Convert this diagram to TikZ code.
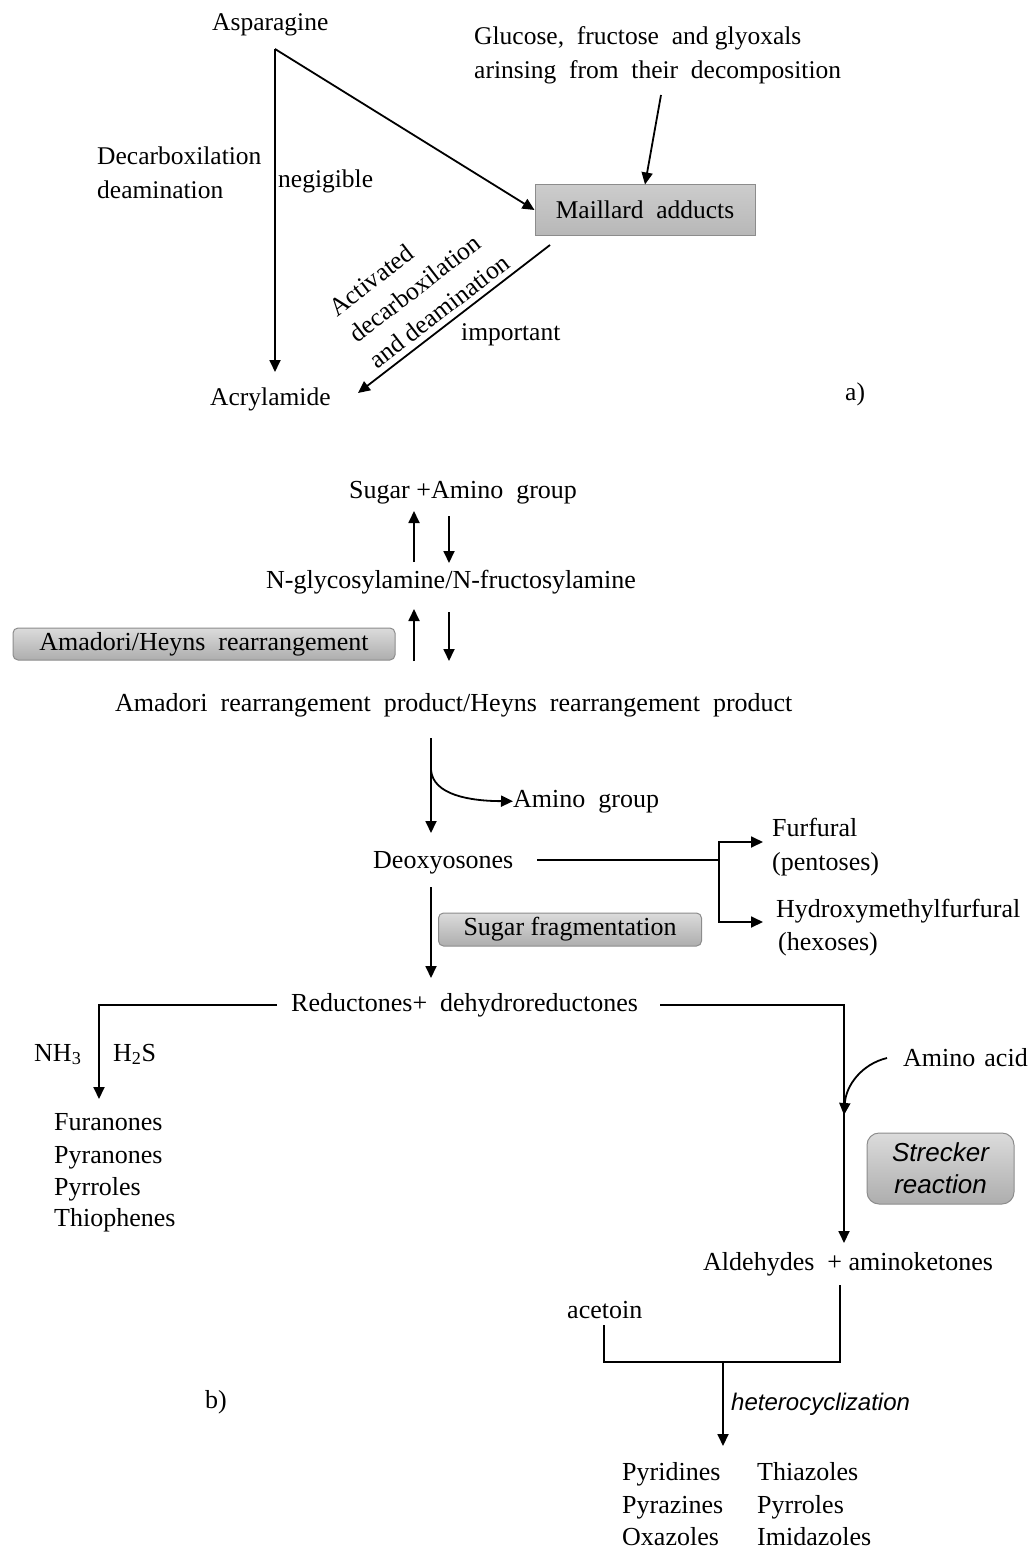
\documentclass[tikz,border=0pt]{standalone}
\usepackage{fontspec}
\setmainfont{Liberation Serif}
\setsansfont{Liberation Sans}
\usetikzlibrary{arrows.meta}
\begin{document}
\begin{tikzpicture}[x=1pt,y=-1pt,
  every node/.style={inner sep=0pt, font=\fontsize{26}{31}\selectfont},
  fa/.style={font=\fontsize{25.5}{31}\selectfont},
  lbl/.style={anchor=base west},
  ln/.style={line width=1.8pt},
  arr/.style={line width=1.8pt, -{Triangle[length=12pt,width=11pt]}},
  gbox/.style={draw=black!45, line width=1pt, top color=black!14, bottom color=black!32, inner sep=0pt},
]
\useasboundingbox (0,0) rectangle (1029,1549);

% ---------------- part a ----------------
\node[lbl,fa] (asp) at (212,31) {Asparagine};
\node[lbl,fa] (acr) at (210,405) {Acrylamide};
\node[lbl,fa] (dec1) at (97,165) {Decarboxilation};
\node[lbl,fa] (dec2) at (97,198) {deamination};
\node[lbl,fa] (neg) at (278,188) {negigible};
\node[lbl,fa] (glu1) at (474,45) {Glucose,\ \ fructose\ \ and glyoxals};
\node[lbl,fa] (glu2) at (474,79) {arinsing\ \ from\ \ their\ \ decomposition};
\node[gbox, rounded corners=0pt, fa, minimum width=220pt, minimum height=50pt, top color=black!20, bottom color=black!28] (mail) at (645,210) {Maillard\ \ adducts};
\node[rotate=37.6, align=left, font=\fontsize{25.5}{33}\selectfont] (act) at (419,285) {Activated\\decarboxilation\\and deamination};
\node[lbl,fa] (imp) at (461,340) {important};
\node[lbl,fa] (la) at (845,400) {a)};

\coordinate (apex) at (275,49);
\coordinate (acrtop) at (275,372);
\coordinate (gluend) at (661,95);
\coordinate (mailout) at (550,245);
\coordinate (acrin) at (358,393);
\draw[arr] (apex) -- (acrtop);
\draw[arr] (apex) -- (mail.west);
\draw[arr] (gluend) -- (mail.north);
\draw[arr] (mailout) -- (acrin);

% ---------------- part b ----------------
\node[lbl] (sug) at (349,498) {Sugar +Amino\ \ group};
\node[lbl] (ngly) at (266,588) {N-glycosylamine/N-fructosylamine};
\node[gbox, rounded corners=5pt, minimum width=382pt, minimum height=32pt] (amh) at (204,644) {Amadori/Heyns\ \ rearrangement\hspace{16pt}};
\node[lbl] (arp) at (115,711) {Amadori\ \ rearrangement\ \ product/Heyns\ \ rearrangement\ \ product};
\node[lbl] (amg) at (513,807) {Amino\ \ group};
\node[lbl] (deo) at (373,868) {Deoxyosones};
\node[lbl] (fur1) at (772,836) {Furfural};
\node[lbl] (fur2) at (772,870) {(pentoses)};
\node[lbl] (hmf1) at (776,917) {Hydroxymethylfurfural};
\node[lbl] (hmf2) at (778,950) {(hexoses)};
\node[gbox, rounded corners=5pt, minimum width=263pt, minimum height=33pt] (sfr) at (570,929.5) {Sugar fragmentation\hspace{16pt}};
\node[lbl] (red) at (291,1011) {Reductones+\ \ dehydroreductones};
\node[lbl] (nh3) at (34,1061) {NH\textsubscript{3}};
\node[lbl] (h2s) at (113,1061) {H\textsubscript{2}S};
\node[lbl] (p1) at (54,1130) {Furanones};
\node[lbl] (p2) at (54,1163) {Pyranones};
\node[lbl] (p3) at (54,1195) {Pyrroles};
\node[lbl] (p4) at (54,1226) {Thiophenes};
\node[lbl] (aa) at (903,1066) {Amino\hspace{9pt}acid};
\node[gbox, rounded corners=12pt, minimum width=147pt, minimum height=71pt, align=center, font=\fontsize{26}{32}\sffamily\itshape] (str) at (940.5,1168.5) {Strecker\\reaction};
\node[lbl] (ald) at (703,1270) {Aldehydes\ \ +\ aminoketones};
\node[lbl] (ace) at (567,1318) {acetoin};
\node[lbl, font=\fontsize{24}{30}\sffamily\itshape] (het) at (731,1410) {heterocyclization};
\node[lbl] (lb) at (205,1408) {b)};
\node[lbl] (q1) at (622,1480) {Pyridines};
\node[lbl] (q2) at (622,1513) {Pyrazines};
\node[lbl] (q3) at (622,1545) {Oxazoles};
\node[lbl] (r1) at (757,1480) {Thiazoles};
\node[lbl] (r2) at (757,1513) {Pyrroles};
\node[lbl] (r3) at (757,1545) {Imidazoles};

% reversible arrows
\coordinate (u1s) at (414,562); \coordinate (u1e) at (414,511);
\coordinate (d1s) at (449,516); \coordinate (d1e) at (449,563);
\coordinate (u2s) at (414,661); \coordinate (u2e) at (414,609);
\coordinate (d2s) at (449,612); \coordinate (d2e) at (449,661);
\draw[arr] (u1s) -- (u1e);
\draw[arr] (d1s) -- (d1e);
\draw[arr] (u2s) -- (u2e);
\draw[arr] (d2s) -- (d2e);

% Amadori product -> Deoxyosones
\coordinate (arpb) at (431,738);
\coordinate (split) at (431,770);
\coordinate (deot) at (431,833);
\draw[arr] (arpb) -- (deot);
\draw[arr] (split) .. controls (433,795) and (470,801) .. (amg.west);

% Deoxyosones branch
\coordinate (deoR) at (537,860);
\coordinate (brm) at (719,860);
\coordinate (fa) at (763,842);
\coordinate (ha) at (763,922);
\draw[ln] (deoR) -- (brm);
\draw[arr] (brm) |- (fa);
\draw[arr] (brm) |- (ha);

% Deoxyosones -> Reductones
\coordinate (deob) at (431,887);
\coordinate (redt) at (431,978);
\draw[arr] (deob) -- (redt);

% Reductones branches
\coordinate (redL) at (277,1005);
\coordinate (nhtip) at (99,1099);
\coordinate (redR) at (660,1005);
\coordinate (aldtip) at (844,1243);
\draw[arr] (redL) -| (nhtip);
\draw[arr] (redR) -| (aldtip);

% Amino acid
\coordinate (aas) at (887,1058);
\coordinate (aam) at (844,1115);
\draw[arr] (aas) .. controls (862,1064) and (846,1085) .. (aam);

% heterocyclization
\coordinate (aldb) at (840,1285);
\coordinate (acb) at (604,1362);
\coordinate (acet) at (604,1325);
\coordinate (hs) at (723,1362);
\coordinate (he) at (723,1446);
\draw[ln] (aldb) |- (acb) -- (acet);
\draw[arr] (hs) -- (he);
\end{tikzpicture}
\end{document}
